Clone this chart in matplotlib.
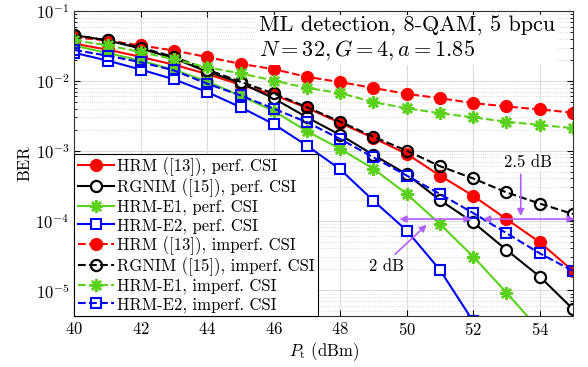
import numpy as np
import matplotlib
matplotlib.use("Agg")
from matplotlib import pyplot as plt

plt.rcParams['font.family'] = 'serif'
plt.rcParams['font.serif'] = ['cmr10']
plt.rcParams['mathtext.fontset'] = 'cm'
plt.rcParams['axes.unicode_minus'] = False
plt.rcParams['axes.formatter.use_mathtext'] = True

# transmit power (dBm)
pt = np.arange(40, 56)

# BER values
hrm_perf = [0.034, 0.028, 0.022, 0.017, 0.0125, 0.0088, 0.0063, 0.0041, 0.0025, 0.00152,
            0.0009, 0.00044, 0.000226, 0.000105, 4.9e-5, 1.9e-5]
rgnim_perf = [0.045, 0.038, 0.029, 0.021, 0.0135, 0.0094, 0.0056, 0.0030, 0.00168, 0.00087,
              0.00046, 0.000196, 9.4e-5, 3.8e-5, 1.58e-5, 5.4e-6]
e1_perf = [0.032, 0.025, 0.0195, 0.0144, 0.0098, 0.0061, 0.0037, 0.0019, 0.00106, 0.00055,
           0.00024, 8.9e-5, 3.05e-5, 9.3e-6, 2.7e-6]
e2_perf = [0.0252, 0.0195, 0.0145, 0.0105, 0.0069, 0.0042, 0.0024, 0.00118, 0.00054, 0.000192,
           7.2e-5, 1.96e-5, 3.6e-6]
hrm_imperf = [0.042, 0.0378, 0.0321, 0.0272, 0.0219, 0.0175, 0.0147, 0.0114, 0.0096, 0.0079,
              0.0065, 0.00565, 0.0048, 0.0043, 0.0039, 0.0035]
rgnim_imperf = [0.045, 0.038, 0.030, 0.022, 0.0145, 0.0097, 0.0066, 0.0042, 0.0026, 0.00158,
                0.001, 0.0006, 0.0004, 0.000253, 0.000175, 0.000124]
e1_imperf = [0.038, 0.0323, 0.0258, 0.0203, 0.0156, 0.0128, 0.0101, 0.0079, 0.0067, 0.00495,
             0.00405, 0.00344, 0.0030, 0.0026, 0.00234, 0.0021]
e2_imperf = [0.0277, 0.0229, 0.0185, 0.0141, 0.0091, 0.0062, 0.0040, 0.00255, 0.00147, 0.0008,
             0.00044, 0.00024, 0.000128, 6.6e-5, 3.4e-5, 1.9e-5]

labels = ['HRM ([13]), perf. CSI', 'RGNIM ([15]), perf. CSI', 'HRM-E1, perf. CSI',
          'HRM-E2, perf. CSI', 'HRM ([13]), imperf. CSI', 'RGNIM ([15]), imperf. CSI',
          'HRM-E1, imperf. CSI', 'HRM-E2, imperf. CSI']

green = '#5cd11c'
purple = '#b060ff'

fig = plt.figure(figsize=(5.88, 3.67), dpi=100)
ax = fig.add_axes([0.1264, 0.139, 0.848, 0.831])

lw = 1.5
ax.plot(pt, hrm_perf, '-', color='r', lw=lw, marker='o', ms=8.5, mfc='r', mec='r', label=labels[0])
ax.plot(pt, rgnim_perf, '-', color='k', lw=lw, marker='o', ms=8, mfc='w', mec='k', mew=1.6, label=labels[1])
ax.plot(pt[:len(e1_perf)], e1_perf, '-', color=green, lw=lw, marker=(8, 2, 0), ms=9, mec=green, mew=1.8, label=labels[2])
ax.plot(pt[:len(e2_perf)], e2_perf, '-', color='b', lw=lw, marker='s', ms=7, mfc='w', mec='b', mew=1.5, label=labels[3])
ax.plot(pt, hrm_imperf, '--', color='r', lw=lw, marker='o', ms=8.5, mfc='r', mec='r', label=labels[4])
ax.plot(pt, rgnim_imperf, '--', color='k', lw=lw, marker='o', ms=8, mfc='none', mec='k', mew=1.6, label=labels[5])
ax.plot(pt, e1_imperf, '--', color=green, lw=lw, marker=(8, 2, 0), ms=9, mec=green, mew=1.8, label=labels[6])
ax.plot(pt, e2_imperf, '--', color='b', lw=lw, marker='s', ms=7, mfc='none', mec='b', mew=1.5, label=labels[7])

ax.set_yscale('log')
ax.set_xlim(40, 55)
ax.set_ylim(4.3e-6, 1e-1)
ax.set_xticks(np.arange(40, 56, 2))
ax.tick_params(which='both', direction='in', top=True, right=True, labelsize=12)
ax.tick_params(which='major', length=4)
ax.tick_params(which='minor', length=2)
ax.grid(True, which='major', color='#dcdcdc', lw=0.8)
ax.grid(True, which='minor', color='#d0d0d0', lw=0.6, ls=':')
ax.set_axisbelow(True)
for s in ax.spines.values():
    s.set_color('#333333')
ax.set_xlabel(r'$P_{\rm t}$ (dBm)', fontsize=12, labelpad=2)
ax.set_ylabel('BER', fontsize=12, labelpad=2)

# annotations
ax.annotate('', xy=(49.78, 1.05e-4), xytext=(51.95, 1.05e-4),
            arrowprops=dict(arrowstyle='<|-|>', color=purple, lw=1.2, mutation_scale=10, shrinkA=0, shrinkB=0))
ax.annotate('', xy=(52.3, 1.05e-4), xytext=(55.05, 1.05e-4),
            arrowprops=dict(arrowstyle='<|-|>', color=purple, lw=1.2, mutation_scale=10, shrinkA=0, shrinkB=0),
            annotation_clip=False)
ax.annotate('', xy=(53.43, 1.16e-4), xytext=(53.43, 4.6e-4),
            arrowprops=dict(arrowstyle='-|>', color=purple, lw=1.2, mutation_scale=10, shrinkA=0, shrinkB=0))
ax.text(53.65, 6.9e-4, '2.5 dB', fontsize=12, ha='center', va='center',
        bbox=dict(facecolor='w', edgecolor='none', pad=1))
ax.annotate('', xy=(50.6, 8.7e-5), xytext=(49.65, 3.3e-5),
            arrowprops=dict(arrowstyle='-|>', color=purple, lw=1.2, mutation_scale=10, shrinkA=0, shrinkB=0))
ax.text(49.4, 2.2e-5, '2 dB', fontsize=12, ha='center', va='center',
        bbox=dict(facecolor='w', edgecolor='none', pad=1))

ax.text(0.37, 0.985, 'ML detection, 8-QAM, 5 bpcu\n$N=32, G=4, a=1.85$', transform=ax.transAxes,
        fontsize=16, ha='left', va='top', linespacing=1.15, multialignment='left',
        bbox=dict(facecolor='w', edgecolor='none', pad=2))

leg = ax.legend(loc='lower left', fontsize=12, borderaxespad=0, handlelength=2.2,
                handletextpad=0.15, labelspacing=0.15, borderpad=0.2, fancybox=False,
                framealpha=1, edgecolor='k')
leg.get_frame().set_linewidth(0.8)

fig.savefig('out.png', dpi=100)
